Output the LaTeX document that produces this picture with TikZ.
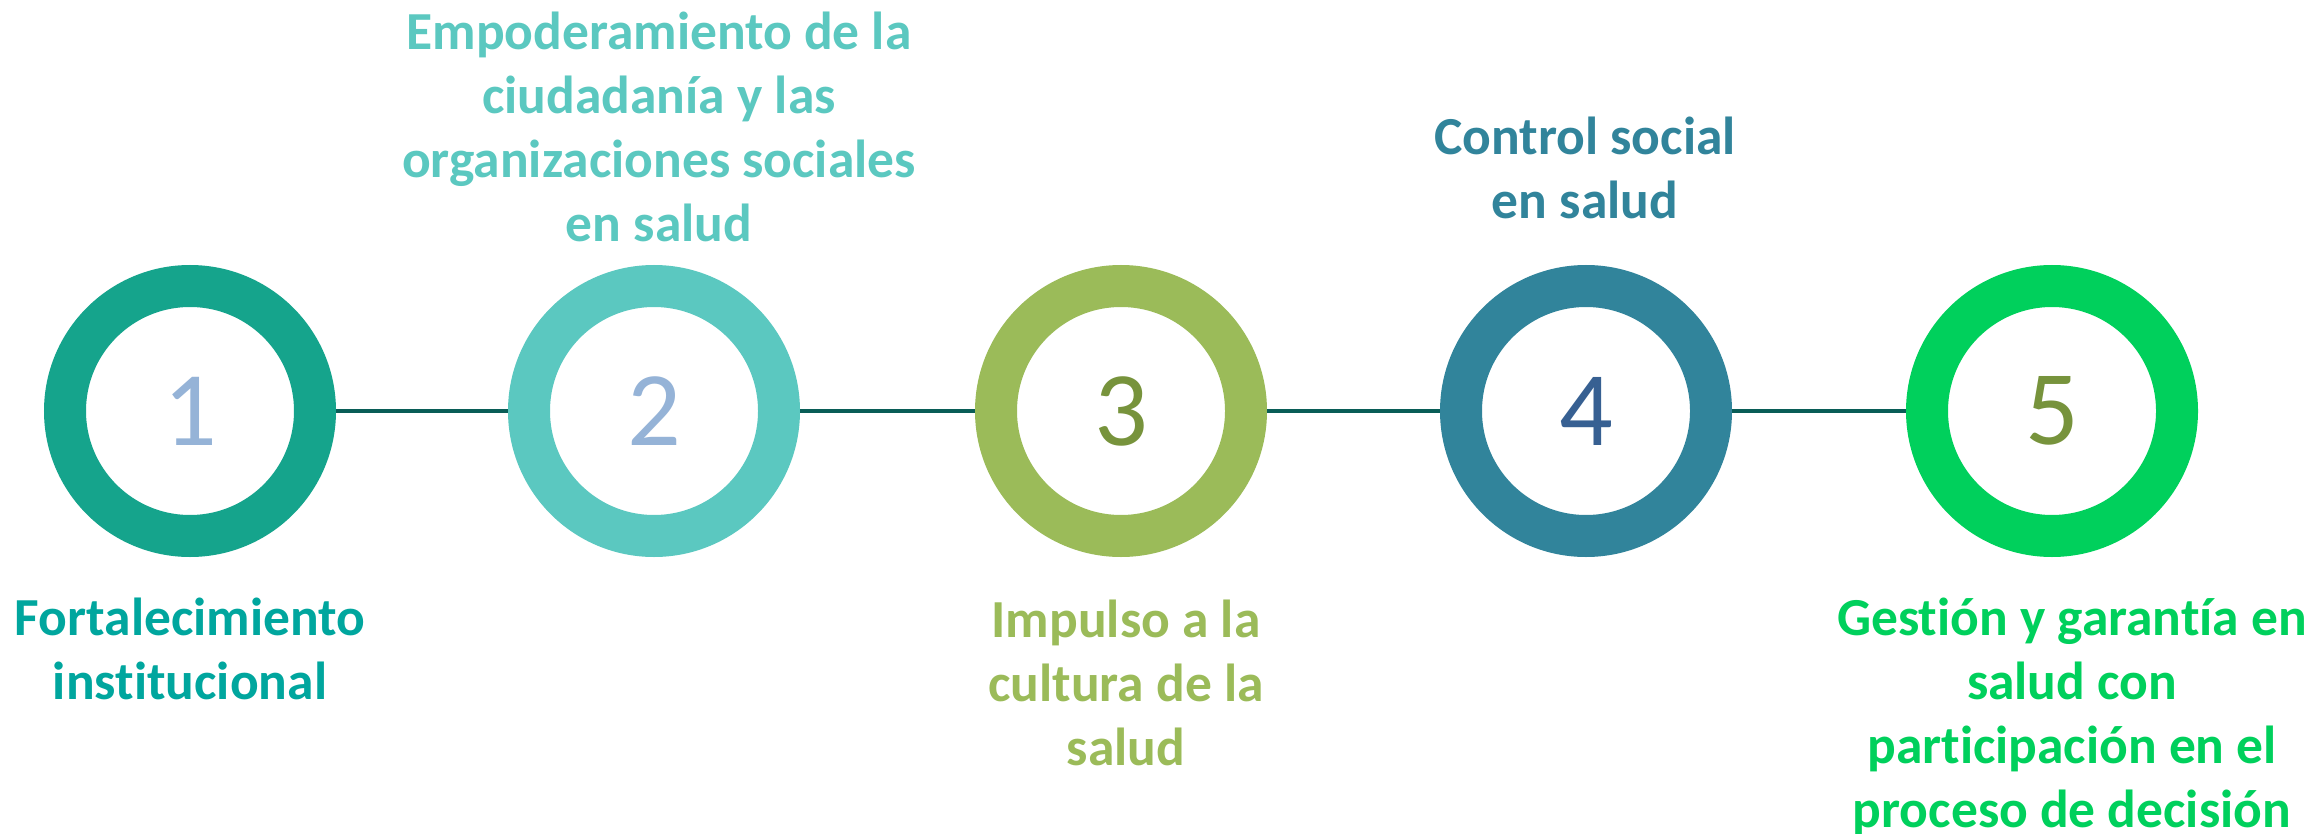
\documentclass[tikz,border=0pt]{standalone}
\usepackage{fontspec}
\setmainfont{Carlito}[Ligatures=NoCommon]
\definecolor{ringA}{HTML}{15A48C}
\definecolor{ringB}{HTML}{5BC8C0}
\definecolor{ringC}{HTML}{9BBB59}
\definecolor{ringD}{HTML}{31849B}
\definecolor{ringE}{HTML}{00D05C}
\definecolor{numBlue}{HTML}{95B3D7}
\definecolor{numOlive}{HTML}{77933C}
\definecolor{numNavy}{HTML}{376092}
\definecolor{labA}{HTML}{00A69E}
\definecolor{linkCol}{HTML}{095D57}
\tikzset{
  ring/.style={circle, draw=#1, line width=42pt, minimum size=250pt, inner sep=0pt, fill=white,
    font=\fontsize{106}{106}\selectfont},
  lab/.style={align=center, text=#1, font=\fontsize{53.5}{64}\selectfont\bfseries, inner sep=0pt, anchor=base},
  link/.style={draw=linkCol, line width=4.5pt}
}
\begin{document}
\begin{tikzpicture}[x=1pt,y=-1pt]
\useasboundingbox[fill=white] (0,0) rectangle (2310,834);
\node[ring=ringA, text=numBlue] (c1) at (190,411) {1};
\node[ring=ringB, text=numBlue] (c2) at (654,411) {2};
\node[ring=ringC, text=numOlive] (c3) at (1121,411) {3};
\node[ring=ringD, text=numNavy] (c4) at (1586,411) {4};
\node[ring=ringE, text=numOlive] (c5) at (2052,411) {5};
\draw[link] (c1) -- (c2);
\draw[link] (c2) -- (c3);
\draw[link] (c3) -- (c4);
\draw[link] (c4) -- (c5);
\node[lab=labA] (l1) at (190,699) {Fortalecimiento\\institucional};
\node[lab=ringB] (l2) at (659,242) {Empoderamiento de la\\ciudadanía y las\\organizaciones sociales\\en salud};
\node[lab=ringC] (l3) at (1126,765) {Impulso a la\\cultura de la\\salud};
\node[lab=ringD] (l4) at (1585,219) {Control social\\en salud};
\node[lab=ringE] (l5) at (2072,827) {Gestión y garantía en\\salud con\\participación en el\\proceso de decisión};
\end{tikzpicture}
\end{document}
